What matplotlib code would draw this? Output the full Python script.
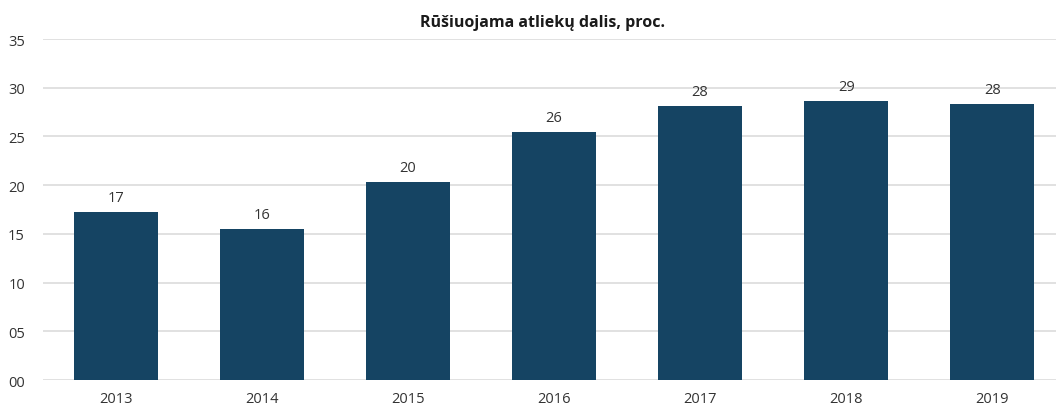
import matplotlib
matplotlib.use('Agg')
from matplotlib import pyplot as plt
import numpy as np

years = ['2013', '2014', '2015', '2016', '2017', '2018', '2019']
share = [17.2, 15.55, 20.3, 25.5, 28.1, 28.65, 28.3]
yticks = [0, 5, 10, 15, 20, 25, 30, 35]

plt.rcParams['font.family'] = ['Open Sans', 'DejaVu Sans']
fig = plt.figure(figsize=(10.56, 4.10), dpi=100)
ax = fig.add_axes([0.0407, 0.0707, 0.968, 0.8317])

x = np.arange(len(years))
bars = ax.bar(x, share, width=0.575, color='#154463', zorder=3)
for b, v in zip(bars, share):
    ax.annotate('%d' % round(v), (b.get_x() + b.get_width() / 2, v),
                xytext=(0, 5), textcoords='offset points',
                ha='center', va='bottom', fontsize=10.5, color='#333333')

ax.set_xlim(-0.5, len(years) - 0.5)
ax.set_ylim(0, 35)
ax.set_yticks(yticks)
ax.set_yticklabels(['%02d' % t for t in yticks])
ax.set_xticks(x)
ax.set_xticklabels(years)
ax.tick_params(axis='both', length=0, labelsize=10.5, colors='#333333')
ax.tick_params(axis='y', pad=13)
ax.tick_params(axis='x', pad=8)
ax.grid(axis='y', color='#dcdcdc', linewidth=1.2, zorder=0)
for s in ax.spines.values():
    s.set_visible(False)

fig.text(0.514, 0.945, 'Rūšiuojama atliekų dalis, proc.', ha='center', va='center',
         fontsize=11.5, fontweight='bold', color='#1a1a1a')

plt.savefig('out.png', dpi=100)
